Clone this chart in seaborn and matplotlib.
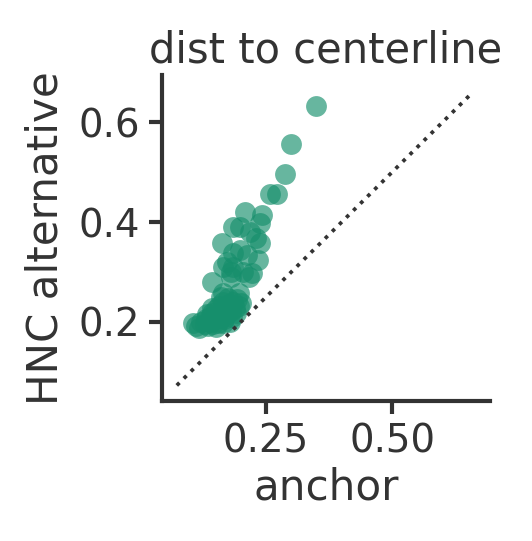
import numpy as np
import pandas as pd
import matplotlib
matplotlib.use('Agg')
import matplotlib.pyplot as plt
import seaborn as sns

# valores
anchor = [0.349, 0.300, 0.288, 0.258, 0.272, 0.208, 0.241, 0.238, 0.185, 0.198,
          0.218, 0.231, 0.238, 0.162, 0.198, 0.185, 0.212, 0.235, 0.172, 0.165,
          0.185, 0.205, 0.222, 0.180, 0.142, 0.165, 0.196, 0.216, 0.180,
          0.105, 0.112, 0.118, 0.122, 0.128, 0.130, 0.135, 0.138, 0.140, 0.142,
          0.145, 0.148, 0.150, 0.152, 0.155, 0.157, 0.160, 0.162, 0.165, 0.167,
          0.170, 0.172, 0.175, 0.177, 0.180, 0.182, 0.185, 0.188, 0.190, 0.193,
          0.196, 0.200, 0.142, 0.132, 0.160, 0.150, 0.165, 0.178]
hnc_alt = [0.632, 0.556, 0.497, 0.457, 0.457, 0.421, 0.414, 0.398, 0.390, 0.390,
           0.381, 0.368, 0.358, 0.358, 0.344, 0.338, 0.334, 0.324, 0.321, 0.311,
           0.311, 0.301, 0.298, 0.291, 0.280, 0.257, 0.257, 0.291, 0.300,
           0.198, 0.192, 0.188, 0.200, 0.195, 0.205, 0.192, 0.210, 0.200, 0.218,
           0.195, 0.205, 0.225, 0.212, 0.198, 0.232, 0.208, 0.220, 0.240, 0.205,
           0.228, 0.215, 0.248, 0.235, 0.222, 0.210, 0.240, 0.228, 0.218, 0.245,
           0.232, 0.238, 0.228, 0.215, 0.250, 0.190, 0.198, 0.200]
linea_ref = [0.073, 0.653]

datos = pd.DataFrame({'anchor': anchor, 'HNC alternative': hnc_alt})

sns.set_theme(context='paper', style='ticks')
plt.rcParams['text.color'] = '#333333'
plt.rcParams['axes.labelcolor'] = '#333333'
plt.rcParams['xtick.color'] = '#333333'
plt.rcParams['ytick.color'] = '#333333'
plt.rcParams['axes.edgecolor'] = '#333333'

fig = plt.figure(figsize=(532 / 300, 541 / 300), dpi=300)
ax = fig.add_axes([0.3045, 0.259, 0.6165, 0.602])

sns.scatterplot(data=datos, x='anchor', y='HNC alternative', color='#168f6c',
                alpha=0.65, s=25, linewidth=0, ax=ax)
ax.plot(linea_ref, linea_ref, ls=':', color='#333333', lw=0.9)

ax.set_xlim(0.0437, 0.694)
ax.set_ylim(0.042, 0.694)
ax.set_xticks([0.25, 0.50])
ax.set_yticks([0.2, 0.4, 0.6])
ax.tick_params(length=3.2, width=1.0, labelsize=9.3, pad=2)
ax.set_xlabel('anchor', fontsize=10.1, labelpad=1.5)
ax.set_ylabel('HNC alternative', fontsize=10.1, labelpad=3)
ax.set_title('dist to centerline', fontsize=10.0, pad=3)
for sp in ax.spines.values():
    sp.set_linewidth(1.0)
sns.despine(ax=ax)

fig.savefig('out.png', dpi=300)
